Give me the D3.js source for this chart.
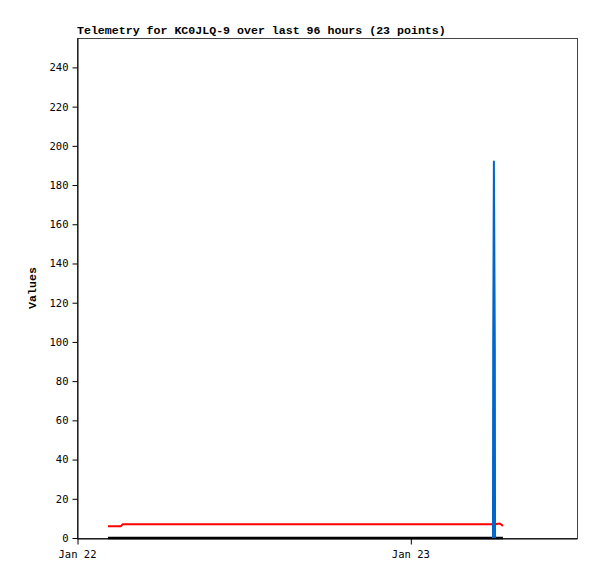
<!DOCTYPE html>
<html>
<head>
<meta charset="utf-8">
<script src="https://cdn.jsdelivr.net/npm/d3@7"></script>
<style>
  body { margin: 0; background: #fff; }
  svg text { font-family: "DejaVu Sans Mono", "Liberation Mono", monospace; }
</style>
</head>
<body>
<div id="chart"></div>
<script>
// Datos de telemetría (23 puntos)
let times = [
  '2024-01-22T02:14', '2024-01-22T03:10', '2024-01-22T03:17', '2024-01-22T05:00',
  '2024-01-22T07:00', '2024-01-22T09:00', '2024-01-22T11:00', '2024-01-22T13:00',
  '2024-01-22T15:00', '2024-01-22T17:00', '2024-01-22T19:00', '2024-01-22T21:00',
  '2024-01-22T23:00', '2024-01-23T01:00', '2024-01-23T03:00', '2024-01-23T05:00',
  '2024-01-23T05:57', '2024-01-23T05:58', '2024-01-23T06:01', '2024-01-23T06:05',
  '2024-01-23T06:06', '2024-01-23T06:27', '2024-01-23T06:40'
];
let redValues   = [6, 6, 7, 7, 7, 7, 7, 7, 7, 7, 7, 7, 7, 7, 7, 7, 7, 7, 7, 7, 7, 7.4, 6.2];
let blackValues = [0, 0, 0, 0, 0, 0, 0, 0, 0, 0, 0, 0, 0, 0, 0, 0, 0, 0, 0, 0, 0, 0, 0];
let blueValues  = [null, null, null, null, null, null, null, null, null, null, null, null,
                   null, null, null, null, 0, 97, 192, 97, 0, null, null];
let yTicks = [0, 20, 40, 60, 80, 100, 120, 140, 160, 180, 200, 220, 240];
let xDomain = ['2024-01-22T00:00', '2024-01-23T12:00'];
let xTicks = ['2024-01-22T00:00', '2024-01-23T00:00'];

let parse = d3.utcParse('%Y-%m-%dT%H:%M');
let dates = times.map(parse);

let margin = {top: 38, right: 20, bottom: 41, left: 77};
let width = 500, height = 500;

let svg = d3.select('#chart').append('svg')
    .attr('width', 597)
    .attr('height', 579);

let chart = svg.append('g')
    .attr('transform', 'translate(' + margin.left + ',' + margin.top + ')');

let x = d3.scaleUtc().domain(xDomain.map(parse)).range([0, width]);
let y = d3.scaleLinear().domain([0, 255]).range([height, 0]);

// Marco
chart.append('rect')
    .attr('x', 0.5).attr('y', 0.5)
    .attr('width', width).attr('height', height)
    .attr('fill', 'none')
    .attr('stroke', '#444');

// Eje Y
let yAxis = chart.append('g')
    .attr('transform', 'translate(0.5,0)')
    .call(d3.axisLeft(y).tickValues(yTicks).tickSize(5).tickSizeOuter(0).tickPadding(4));
yAxis.select('.domain').attr('stroke', '#000');
yAxis.selectAll('.tick text').attr('font-size', '10.5px').attr('fill', '#000')
    .style('font-family', '"DejaVu Sans Mono", monospace');

// Eje X
let xAxis = chart.append('g')
    .attr('transform', 'translate(0,' + (height + 0.5) + ')')
    .call(d3.axisBottom(x).tickValues(xTicks.map(parse)).tickSize(6).tickSizeOuter(0).tickPadding(6)
        .tickFormat(d3.utcFormat('%b %d')));
xAxis.select('.domain').attr('stroke', '#000');
xAxis.selectAll('.tick line').attr('transform', 'translate(0.5,0)');
xAxis.selectAll('.tick text').attr('font-size', '10.5px').attr('fill', '#000')
    .style('font-family', '"DejaVu Sans Mono", monospace');

// Líneas
function drawLine(values, color, w) {
    let line = d3.line()
        .defined(function(d) { return d !== null; })
        .x(function(d, i) { return x(dates[i]); })
        .y(function(d) { return y(d); });
    chart.append('path')
        .datum(values)
        .attr('d', line)
        .attr('fill', 'none')
        .attr('stroke', color)
        .attr('stroke-width', w)
        .attr('stroke-linejoin', 'round');
}
drawLine(blackValues, '#000', 2.5);
drawLine(redValues, '#ff0000', 2);
drawLine(blueValues, '#0066cc', 2);

// Títulos
svg.append('text')
    .attr('x', 77).attr('y', 34)
    .attr('font-size', '11.6px')
    .attr('font-weight', 'bold')
    .style('font-family', '"Liberation Mono", monospace')
    .text('Telemetry for KC0JLQ-9 over last 96 hours (23 points)');

svg.append('text')
    .attr('transform', 'translate(36,288) rotate(-90)')
    .attr('text-anchor', 'middle')
    .attr('font-size', '11.6px')
    .attr('font-weight', 'bold')
    .style('font-family', '"Liberation Mono", monospace')
    .text('Values');
</script>
</body>
</html>
